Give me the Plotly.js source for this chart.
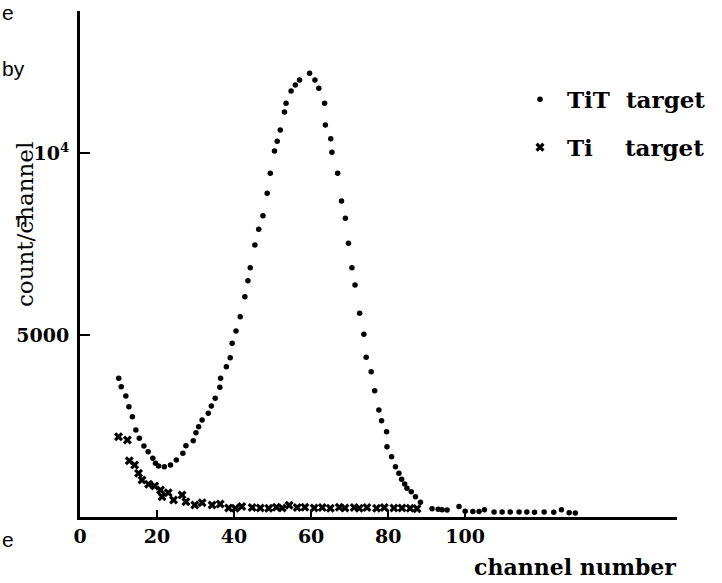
<!DOCTYPE html>
<html>
<head>
<meta charset="utf-8">
<script src="https://cdn.plot.ly/plotly-3.0.1.min.js"></script>
<style>html,body{margin:0;padding:0;background:#fff;}#chart{width:722px;height:583px;}</style>
</head>
<body>
<div id="chart"></div>
<script>
// TiT target (dots)
const titChannel = [10.05,10.7,11.9,12.7,13.6,14.5,15.4,16.6,17.7,18.9,19.6,20.4,21.9,23.5,25.0,26.7,27.5,29.4,30.1,30.8,31.7,33.3,34.1,35.1,36.3,36.5,38.0,39.0,39.5,40.5,41.6,42.8,43.6,44.2,45.4,46.4,47.5,48.6,49.4,50.5,51.2,52.0,53.1,53.5,54.8,55.9,57.0,59.6,61.0,62.0,63.5,63.7,65.1,65.4,66.9,67.9,68.9,69.7,70.6,71.4,72.6,73.7,74.3,75.6,76.5,77.6,78.3,79.6,79.7,80.9,81.9,82.8,83.5,84.3,84.9,86.0,87.1,88.4,91.4,93.0,94.0,95.3,98.4,100.0,102.0,103.6,105.0,107.5,109.6,111.7,114.0,116.0,118.0,120.5,123.0,125.0,127.0,128.6];
const titCount = [3810,3580,3324,3030,2755,2390,2162,1950,1794,1612,1475,1401,1382,1428,1566,1750,1959,2096,2316,2481,2665,2849,3049,3261,3563,3810,4129,4376,4772,5109,5502,6052,6491,6848,7472,7903,8277,8892,9441,10054,10320,10631,11125,11364,11702,11867,12004,12188,12004,11776,11364,10768,10392,10018,9441,8681,8205,7519,6848,6373,5596,5019,4387,3991,3469,2939,2645,2343,1931,1656,1382,1200,1036,906,788,695,558,404,230,210,200,190,290,160,150,150,200,140,140,140,140,140,130,140,130,200,120,110];

// Ti target (crosses)
const tiChannel = [10.0,12.3,12.8,14.2,15.2,16.1,17.8,19.4,20.9,21.3,22.9,24.3,26.5,27.5,29.8,31.7,34.3,36.4,38.6,40.3,42.0,44.7,46.8,49.0,51.0,52.5,54.3,56.4,58.4,60.8,62.9,65.0,67.3,68.8,71.2,72.5,74.5,77.0,79.0,81.5,83.6,85.7,87.5];
const tiCount = [2206,2115,1547,1428,1200,1016,898,852,742,558,668,467,604,420,330,393,330,357,250,240,290,260,250,240,270,250,320,260,270,250,260,240,270,250,260,240,260,240,260,250,250,240,230];

const xTickVals = [0,20,40,60,80,100];
const xTickText = ['0','20','40','60','80','100'];
const yTickVals = [5000,10000];
const yTickText = ['5000','10<sup>4</sup>'];

const serifBold = {family:'DejaVu Serif, Liberation Serif, serif', size:19, color:'#000', weight:'bold'};
const sans = {family:'Liberation Sans, DejaVu Sans, sans-serif', size:21, color:'#000'};

const traces = [
  {x:titChannel, y:titCount, type:'scatter', mode:'markers', name:'TiT\u00a0\u00a0target',
   legendgroup:'a', marker:{symbol:'circle', size:5.5, color:'#000'}},
  {x:tiChannel, y:tiCount, type:'scatter', mode:'markers', name:'Ti\u00a0\u00a0\u00a0\u00a0target',
   legendgroup:'b', marker:{symbol:'x', size:8, color:'#000'}}
];

const layout = {
  width:722, height:583,
  margin:{l:80, r:45, t:11, b:66},
  paper_bgcolor:'#fff', plot_bgcolor:'#fff',
  showlegend:true,
  legend:{x:0.7253, y:0.868, xanchor:'left', yanchor:'top', bgcolor:'rgba(0,0,0,0)',
          font:{family:'DejaVu Serif, Liberation Serif, serif', size:23, color:'#000', weight:'bold'},
          traceorder:'grouped', tracegroupgap:15, itemwidth:44},
  xaxis:{range:[0,155], showgrid:false, zeroline:false, showline:true, linecolor:'#000', linewidth:3,
         tickmode:'array', tickvals:xTickVals, ticktext:xTickText, ticks:'inside', ticklen:7, tickwidth:2,
         tickcolor:'#000', tickfont:serifBold},
  yaxis:{range:[0,13900], showgrid:false, zeroline:false, showline:true, linecolor:'#000', linewidth:3,
         tickmode:'array', tickvals:yTickVals, ticktext:yTickText, ticks:'inside', ticklen:10, tickwidth:2,
         tickcolor:'#000', tickfont:serifBold, ticklabelstandoff:4},
  annotations:[
    {text:'count/channel', xref:'paper', yref:'paper', x:-0.0921, y:0.577, xanchor:'center', yanchor:'middle',
     textangle:-90, showarrow:false, font:{family:'DejaVu Serif, Liberation Serif, serif', size:23, color:'#000'}},
    {text:'channel number', xref:'paper', yref:'paper', x:0.829, y:-0.0988, xanchor:'center', yanchor:'middle',
     showarrow:false, font:{family:'DejaVu Serif, Liberation Serif, serif', size:22, color:'#000', weight:'bold'}},
    {text:'e', xref:'paper', yref:'paper', x:-0.134, y:0.998, xanchor:'left', yanchor:'middle', showarrow:false, font:sans},
    {text:'by', xref:'paper', yref:'paper', x:-0.134, y:0.887, xanchor:'left', yanchor:'middle', showarrow:false, font:sans},
    {text:'n', xref:'paper', yref:'paper', x:-0.097, y:0.587, xanchor:'center', yanchor:'middle', showarrow:false, font:sans},
    {text:'e', xref:'paper', yref:'paper', x:-0.134, y:-0.045, xanchor:'left', yanchor:'middle', showarrow:false, font:sans}
  ]
};

Plotly.newPlot('chart', traces, layout, {displayModeBar:false, staticPlot:true});
</script>
</body>
</html>
